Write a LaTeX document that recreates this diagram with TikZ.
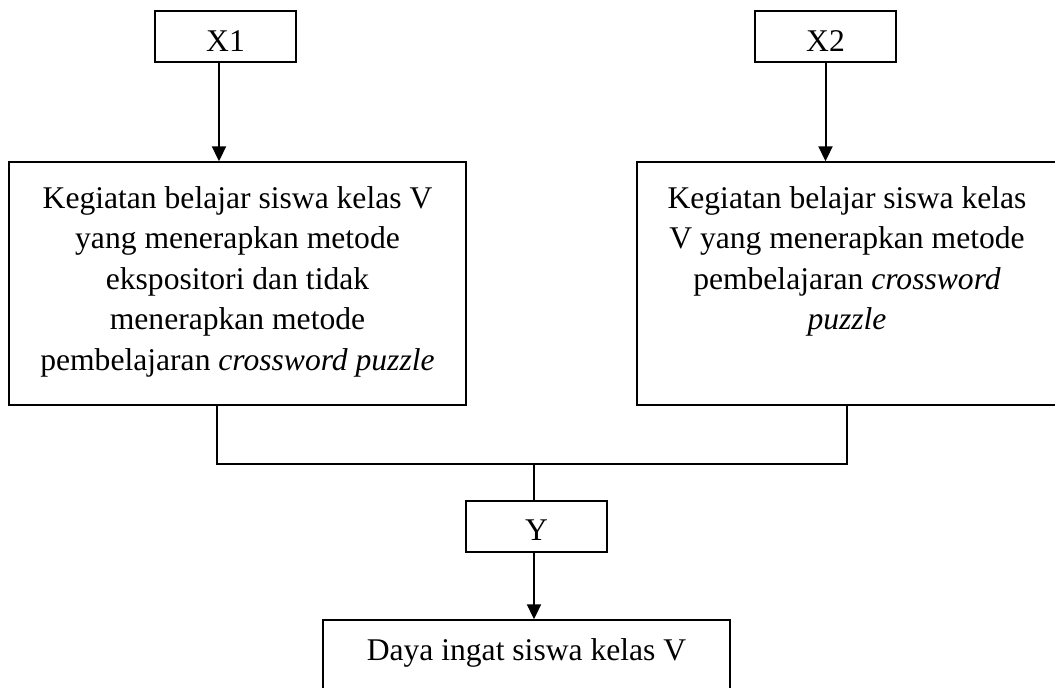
\documentclass[tikz,border=0pt]{standalone}
\usepackage{fontspec}
\setmainfont{Liberation Serif}
\usetikzlibrary{arrows.meta,calc}

\newcommand{\isikotak}[4][46pt]{\parbox[c][#3][t]{#2}{\centering\rule{0pt}{#1}#4}}

\begin{document}
\begin{tikzpicture}[x=1pt,y=-1pt,
  font=\fontsize{31.6}{40.5}\selectfont,
  kotak/.style={draw,line width=1.4pt,inner sep=0pt},
  kecil/.style={draw,line width=1.4pt,minimum width=141pt,minimum height=51pt,inner sep=0pt,text height=29pt,text depth=0pt},
  panah/.style={-{Triangle[length=15pt,width=14pt]},line width=2pt},
  garis/.style={line width=1.1pt}]
\useasboundingbox (0,0) rectangle (1055,688);

% Variabel
\node[kecil] (x1) at (225.5,36.5) {X1};
\node[kecil] (x2) at (825.5,36.5) {X2};
\node[kecil,text height=28pt] (y) at (536.5,526.5) {Y};

% Kelompok
\node[kotak] (kiri) at (237.5,283.5) {\isikotak{457pt}{243pt}{Kegiatan belajar siswa kelas V\\
  yang menerapkan metode\\ ekspositori dan tidak\\ menerapkan metode\\
  pembelajaran \textit{crossword puzzle}}};
\node[kotak] (kanan) at (847,283.5) {\isikotak{420pt}{243pt}{Kegiatan belajar siswa kelas\\
  V yang menerapkan metode\\ pembelajaran \textit{crossword}\\ \textit{puzzle}}};
\node[kotak] (hasil) at (526.5,660) {\isikotak[40pt]{407pt}{80pt}{Daya ingat siswa kelas V}};

% Penghubung
\coordinate (cabang) at (534,464);
\draw[panah] ([xshift=-6.5pt]x1.south) -- ([xshift=-6.5pt]x1.south |- kiri.north);
\draw[panah] (x2.south) -- (x2.south |- kanan.north);
\draw[garis] ([xshift=-20.5pt]kiri.south) |- (cabang) -| (kanan.south);
\draw[garis] (cabang) -- (cabang |- y.north);
\draw[panah] (cabang |- y.south) -- (cabang |- hasil.north);
\end{tikzpicture}
\end{document}
